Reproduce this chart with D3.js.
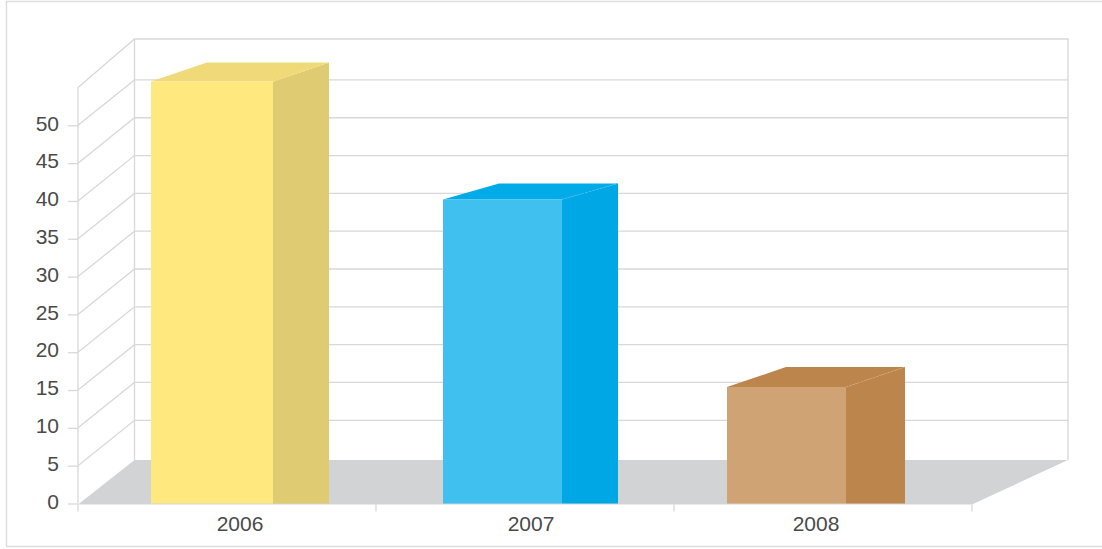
<!DOCTYPE html>
<html><head><meta charset="utf-8">
<script src="https://cdn.jsdelivr.net/npm/d3@7"></script>
<style>html,body{margin:0;padding:0;background:#fff}svg{display:block}text{font-family:"Liberation Sans",Arial,sans-serif;font-size:21px;fill:#4a4a4a}</style>
</head><body><div id="chart"></div>
<script>
const categories = ["2006","2007","2008"];
const values = [55.8, 40.2, 15.4];
const yTicks = [0,5,10,15,20,25,30,35,40,45,50];
const gridLevels = [5,10,15,20,25,30,35,40,45,50];
const frontColors = ["#FFE97F","#3FC0EE","#CFA373"];
const sideColors = ["#DFCB72","#00A7E5","#BC854C"];
const topColors = ["#EFD978","#00ABE8","#BC854C"];

const W=1102,H=549;
const svg=d3.select("#chart").append("svg").attr("width",W).attr("height",H);
const y=d3.scaleLinear().domain([0,55]).range([503.5,87.5]);
const x=d3.scaleBand().domain(categories).range([78,972]);
const wall={dx:56.5,dy:-45.4};
const backRight=1068, floorBack=460, wallTop=39;
const grid="#D8D8D8";

// outer frame
svg.append("path").attr("d",`M1102,1.5H6.5V546.5H1102`).attr("fill","none").attr("stroke","#DEDEDE").attr("stroke-width",1.5);

// floor
svg.append("path").attr("d",d3.line()([[78,y(0)+1],[78+wall.dx,floorBack],[backRight,floorBack],[972,y(0)+1]])+"Z").attr("fill","#D2D3D5");

// walls
const wallG=svg.append("g").attr("fill","none").attr("stroke",grid).attr("stroke-width",1.3);
wallG.append("path").attr("d",`M78,${y(0)}V${y(55)}L${78+wall.dx},${wallTop}H${backRight}V${floorBack}`);
wallG.append("path").attr("d",`M${78+wall.dx},${wallTop}V${floorBack}`);
wallG.selectAll("path.g").data(gridLevels).join("path").attr("class","g")
  .attr("d",d=>`M78,${y(d)}L${78+wall.dx},${y(d)+wall.dy}H${backRight}`);

// y axis
const yAxis=d3.axisLeft(y).tickValues(yTicks).tickSize(10).tickPadding(9).tickFormat(d3.format("d"));
const yg=svg.append("g").attr("transform","translate(78,0)").call(yAxis);
yg.attr("font-size",null).attr("font-family",null);
yg.select(".domain").remove();
yg.selectAll("line").attr("stroke",grid).attr("stroke-width",1.3);
yg.selectAll("text").attr("transform","translate(0,-2)");

// x axis ticks
svg.append("g").selectAll("line").data([...categories.map(c=>x(c)),972]).join("line")
  .attr("x1",d=>d).attr("x2",d=>d).attr("y1",y(0)+1).attr("y2",y(0)+8).attr("stroke",grid).attr("stroke-width",1.3);

// bars
const barShift=[-15,-22.5,-36.5];
const barWidth=[122,119,119];
const depth=[[56,-19],[56,-16],[59,-20]];
const bars=svg.append("g").selectAll("g").data(categories).join("g");
bars.each(function(c,i){
  const g=d3.select(this);
  const cx=x(c)+x.bandwidth()/2+barShift[i];
  const l=cx-barWidth[i]/2,r=cx+barWidth[i]/2,t=y(values[i]),b=y(0);
  const [dx,dy]=depth[i];
  g.append("path").attr("d",d3.line()([[l,t],[l+dx,t+dy],[r+dx,t+dy],[r,t]])+"Z").attr("fill",topColors[i]);
  g.append("path").attr("d",d3.line()([[r,t],[r+dx,t+dy],[r+dx,b],[r,b]])+"Z").attr("fill",sideColors[i]);
  g.append("rect").attr("x",l).attr("y",t).attr("width",r-l).attr("height",b-t).attr("fill",frontColors[i]);
  g.append("line").attr("x1",r).attr("y1",t).attr("x2",r+dx).attr("y2",t+dy)
    .attr("stroke",frontColors[i]).attr("stroke-width",0.7).attr("stroke-dasharray","2 2");
});

// category labels
const labelShift=[13,6,-7];
svg.append("g").selectAll("text").data(categories).join("text")
  .attr("x",(c,i)=>x(c)+x.bandwidth()/2+labelShift[i]).attr("y",531).attr("text-anchor","middle").text(c=>c);
</script></body></html>
